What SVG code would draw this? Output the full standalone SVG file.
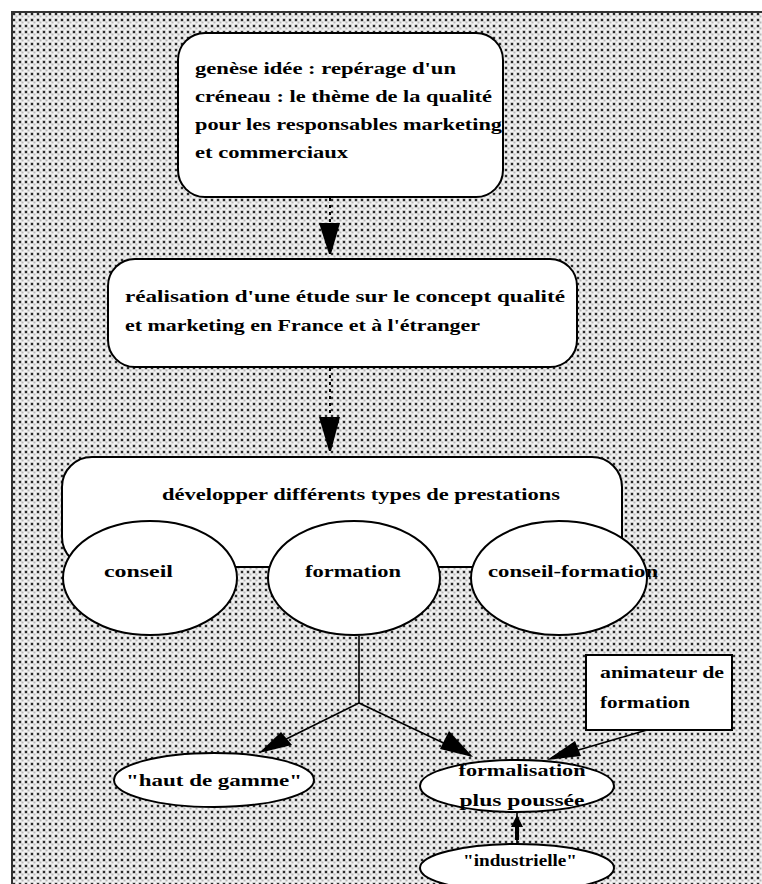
<svg xmlns="http://www.w3.org/2000/svg" width="762" height="884" viewBox="0 0 762 884">
<defs>
<pattern id="dots" width="6" height="6" patternUnits="userSpaceOnUse">
<rect width="6" height="6" fill="#f2f2f2"/>
<rect x="0.5" y="0.5" width="3" height="3" fill="#9a9a9a"/>
<rect x="1" y="1" width="2" height="2" fill="#2a2a2a"/>
<rect x="3.5" y="3.5" width="2" height="2" fill="#b8b8b8"/>
</pattern>
<style>
.box{fill:#fff;stroke:#000;stroke-width:2}
.t{font-family:"Liberation Serif","Times New Roman",serif;font-size:17px;font-weight:bold;fill:#000}
.dash{stroke:#000;stroke-width:2;stroke-dasharray:3 4;fill:none}
.ln{stroke:#000;stroke-width:1.6;fill:none}
.ah{fill:#000}
</style>
</defs>
<rect width="762" height="884" fill="#fff"/>
<rect x="13" y="13" width="749" height="871" fill="url(#dots)"/>
<path d="M12,884 V12 H762" fill="none" stroke="#333" stroke-width="2"/>

<g id="connectors">
<line class="dash" x1="330" y1="198" x2="330" y2="226"/>
<polygon class="ah" points="319,223 340,223 331,254 329,254"/>
<line class="dash" x1="330" y1="368" x2="330" y2="420"/>
<polygon class="ah" points="319,417 340,417 331,451 329,451"/>
<polyline class="ln" points="359,636 359,703 262,751"/>
<polygon class="ah" points="259,753 281,732 292,745"/>
<polyline class="ln" points="359,703 471,756"/>
<polygon class="ah" points="473,757 440,749 449,731"/>
<line class="ln" x1="647" y1="730" x2="551" y2="758"/>
<polygon class="ah" points="547,760 575,741 581,756"/>
<line class="ln" x1="517" y1="812" x2="517" y2="845"/>
<polygon class="ah" points="517,815 523,827 519,827 519,840 515,840 515,827 511,827"/>
</g>

<g id="node-genese">
<rect class="box" x="178" y="33" width="325" height="164" rx="27"/>
<text class="t" x="195" y="74" textLength="261" lengthAdjust="spacingAndGlyphs">genèse idée : repérage d'un</text>
<text class="t" x="195" y="102" textLength="297" lengthAdjust="spacingAndGlyphs">créneau : le thème de la qualité</text>
<text class="t" x="195" y="130" textLength="307" lengthAdjust="spacingAndGlyphs">pour les responsables marketing</text>
<text class="t" x="195" y="158" textLength="153" lengthAdjust="spacingAndGlyphs">et commerciaux</text>
</g>

<g id="node-etude">
<rect class="box" x="108" y="259" width="469" height="108" rx="27"/>
<text class="t" x="125" y="302" textLength="440" lengthAdjust="spacingAndGlyphs">réalisation d'une étude sur le concept qualité</text>
<text class="t" x="125" y="331" textLength="355" lengthAdjust="spacingAndGlyphs">et marketing en France et à l'étranger</text>
</g>

<g id="node-prestations">
<rect class="box" x="62" y="457" width="560" height="110" rx="30"/>
<text class="t" x="162" y="500" textLength="398" lengthAdjust="spacingAndGlyphs">développer différents types de prestations</text>
</g>

<g id="node-conseil">
<ellipse class="box" cx="150" cy="578" rx="87" ry="57"/>
<text class="t" x="104" y="577" textLength="69" lengthAdjust="spacingAndGlyphs">conseil</text>
</g>
<g id="node-formation">
<ellipse class="box" cx="354" cy="578" rx="86" ry="57"/>
<text class="t" x="305" y="577" textLength="96" lengthAdjust="spacingAndGlyphs">formation</text>
</g>
<g id="node-conseil-formation">
<ellipse class="box" cx="559" cy="578" rx="88" ry="57"/>
<text class="t" x="488" y="577" textLength="170" lengthAdjust="spacingAndGlyphs">conseil-formation</text>
</g>

<g id="node-haut-de-gamme">
<ellipse class="box" cx="214" cy="780" rx="100" ry="27"/>
<text class="t" x="214" y="786" text-anchor="middle" textLength="176" lengthAdjust="spacingAndGlyphs">"haut de gamme"</text>
</g>

<g id="node-formalisation">
<ellipse class="box" cx="517" cy="786" rx="97" ry="26"/>
<text class="t" x="522" y="776" text-anchor="middle" textLength="127" lengthAdjust="spacingAndGlyphs">formalisation</text>
<text class="t" x="522" y="806" text-anchor="middle" textLength="125" lengthAdjust="spacingAndGlyphs">plus poussée</text>
</g>

<g id="node-animateur">
<rect class="box" x="586" y="655" width="146" height="75"/>
<text class="t" x="600" y="678" textLength="124" lengthAdjust="spacingAndGlyphs">animateur de</text>
<text class="t" x="600" y="708" textLength="90" lengthAdjust="spacingAndGlyphs">formation</text>
</g>

<g id="node-industrielle">
<ellipse class="box" cx="517" cy="868" rx="97" ry="24"/>
<text class="t" x="520" y="866" text-anchor="middle" textLength="114" lengthAdjust="spacingAndGlyphs">"industrielle"</text>
</g>
</svg>
